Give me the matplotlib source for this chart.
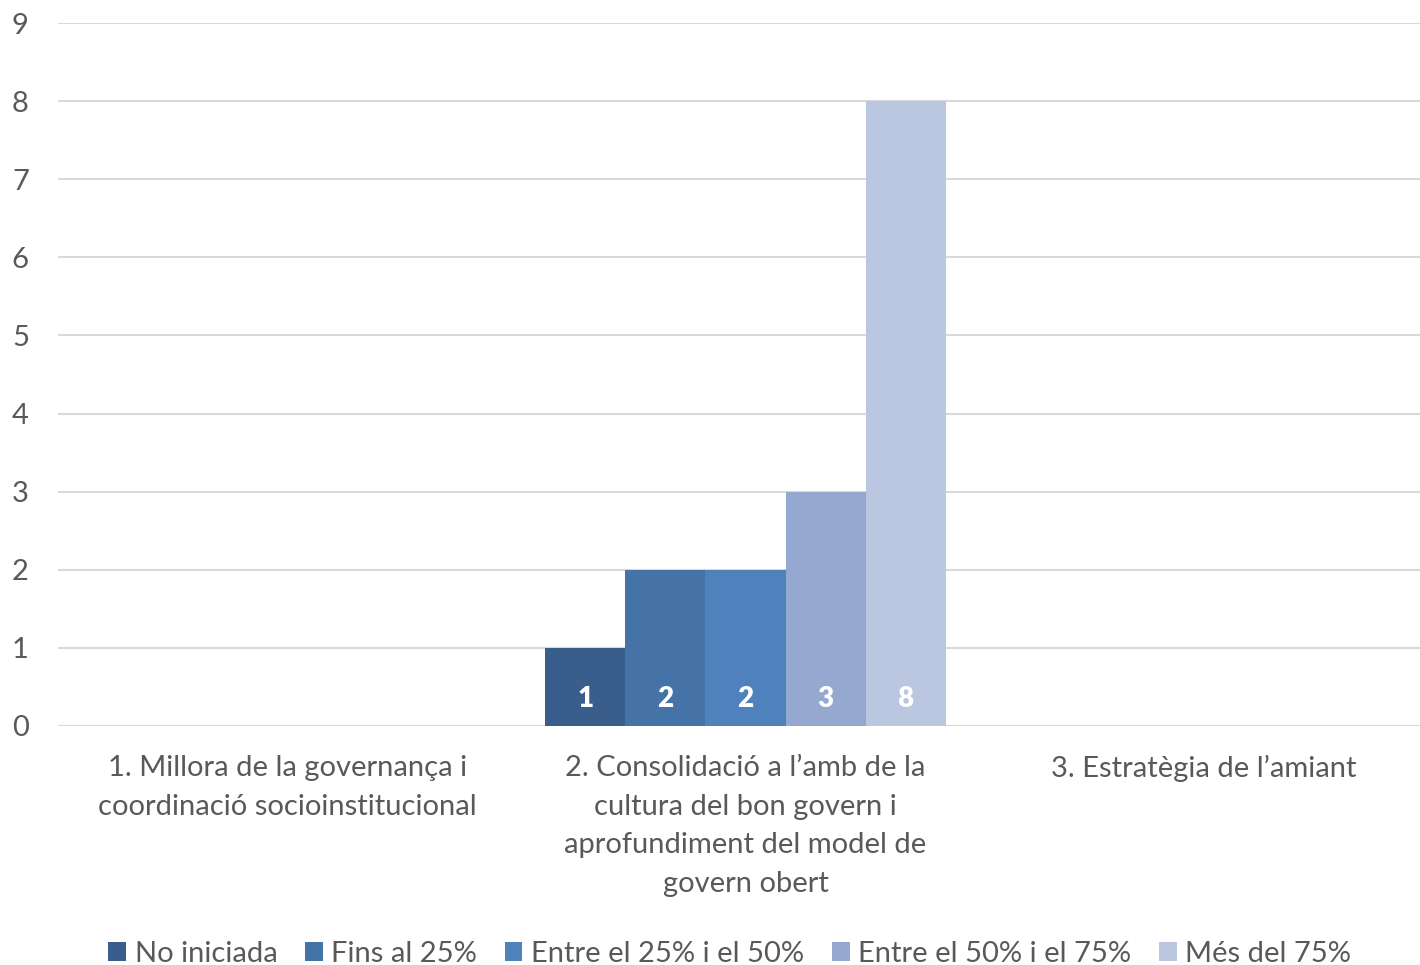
import matplotlib
matplotlib.use("Agg")
import matplotlib.pyplot as plt
import numpy as np

categories = [
    "1. Millora de la governança i\ncoordinació socioinstitucional",
    "2. Consolidació a l’amb de la\ncultura del bon govern i\naprofundiment del model de\ngovern obert",
    "3. Estratègia de l’amiant",
]
series_names = ["No iniciada", "Fins al 25%", "Entre el 25% i el 50%",
                "Entre el 50% i el 75%", "Més del 75%"]
no_iniciada = [0, 1, 0]
fins_25 = [0, 2, 0]
entre_25_50 = [0, 2, 0]
entre_50_75 = [0, 3, 0]
mes_75 = [0, 8, 0]
series_values = [no_iniciada, fins_25, entre_25_50, entre_50_75, mes_75]
colors = ["#3A5E8C", "#4572A7", "#4F81BD", "#95A8D0", "#BBC7E0"]

plt.rcParams["font.family"] = ["Lato", "DejaVu Sans"]
text_color = "#595959"

fig = plt.figure(figsize=(14.2, 9.65), dpi=100)
ax = fig.add_axes([58 / 1420, 239 / 965, 1375 / 1420, 703 / 965])

x = np.arange(len(categories))
n = len(series_values)
width = 0.8735 / n
for i, (name, vals, col) in enumerate(zip(series_names, series_values, colors)):
    pos = x - 0.8735 / 2 + width * (i + 0.5)
    bars = ax.bar(pos, vals, width=width, color=col, label=name, zorder=3)
    for b, v in zip(bars, vals):
        if v > 0:
            ax.text(b.get_x() + b.get_width() / 2, 0.35, f"{v}", ha="center",
                    va="center", color="white", fontsize=20, fontweight="heavy",
                    zorder=4)

ax.set_xlim(-0.5, 2.5)
ax.set_ylim(0, 9)
ax.set_yticks(range(0, 10))
ax.yaxis.grid(True, color="#D9D9D9", lw=1.5, zorder=0)
ax.set_axisbelow(True)
for s in ax.spines.values():
    s.set_visible(False)
ax.axhline(0, color="#D9D9D9", lw=1.5, zorder=2)
ax.tick_params(axis="y", length=0, pad=21, labelsize=21, labelcolor=text_color)
ax.tick_params(axis="x", length=0, pad=21, labelsize=21, labelcolor=text_color)
ax.set_xticks(x)
ax.set_xticklabels(categories, linespacing=1.6)
for lbl in ax.get_yticklabels():
    lbl.set_horizontalalignment("right")

leg = fig.legend(loc="center", bbox_to_anchor=(0.514, 0.0115), ncol=5,
                 frameon=False, fontsize=21, handlelength=0.6,
                 handleheight=0.6, handletextpad=0.3, columnspacing=0.95,
                 labelcolor=text_color)

fig.savefig("out.png", dpi=100)
